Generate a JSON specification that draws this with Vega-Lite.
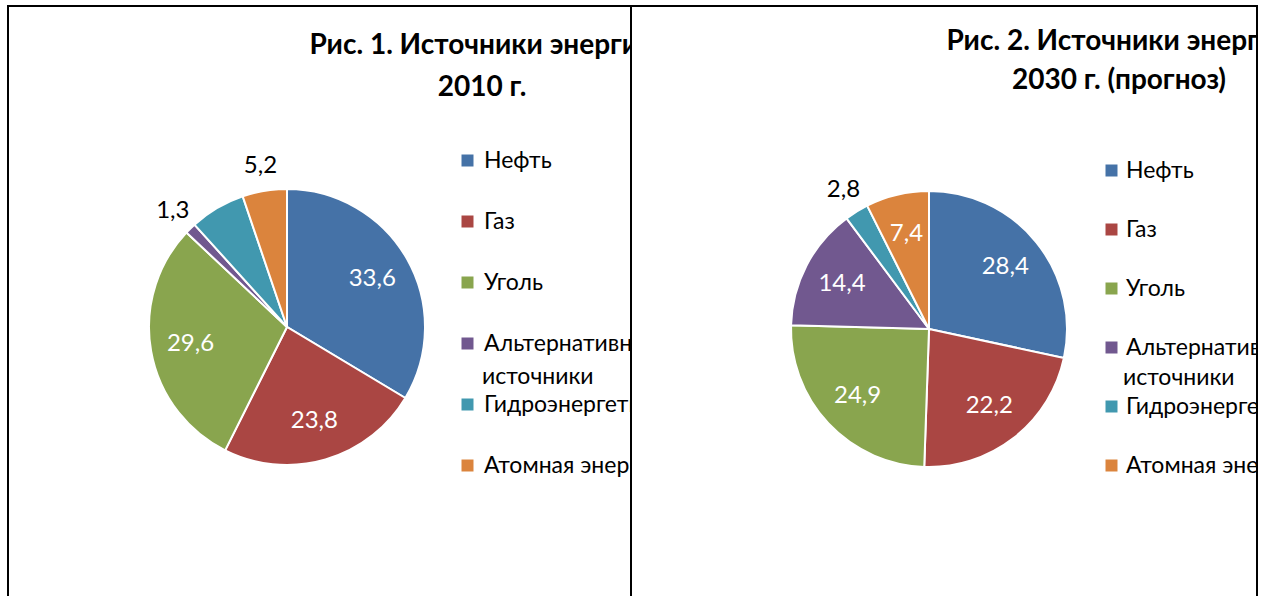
{
  "$schema": "https://vega.github.io/schema/vega-lite/v6.json",
  "background": "white",
  "padding": {"left": 7, "top": 5, "right": 0, "bottom": 0},
  "datasets": {
    "y2010": [
      {"i": 1, "source": "Нефть", "value": 33.6, "label": "33,6"},
      {"i": 2, "source": "Газ", "value": 23.8, "label": "23,8"},
      {"i": 3, "source": "Уголь", "value": 29.6, "label": "29,6"},
      {"i": 4, "source": "Альтернативные источники", "value": 1.3, "label": "1,3"},
      {"i": 5, "source": "Гидроэнергетика", "value": 6.5, "label": ""},
      {"i": 6, "source": "Атомная энергетика", "value": 5.2, "label": "5,2"}
    ],
    "y2030": [
      {"i": 1, "source": "Нефть", "value": 28.4, "label": "28,4"},
      {"i": 2, "source": "Газ", "value": 22.2, "label": "22,2"},
      {"i": 3, "source": "Уголь", "value": 24.9, "label": "24,9"},
      {"i": 4, "source": "Альтернативные источники", "value": 14.4, "label": "14,4"},
      {"i": 5, "source": "Гидроэнергетика", "value": 2.8, "label": "2,8"},
      {"i": 6, "source": "Атомная энергетика", "value": 7.4, "label": "7,4"}
    ]
  },
  "spacing": 0,
  "bounds": "flush",
  "resolve": {
    "scale": {"color": "independent", "opacity": "independent"},
    "legend": {"color": "independent", "opacity": "independent"}
  },
  "hconcat": [
    {
      "width": 623,
      "height": 640,
      "title": {"text": ["Рис. 1. Источники энергии", "2010 г."], "anchor": "start", "align": "center", "baseline": "top", "dx": 474, "dy": 96, "offset": 0, "lineHeight": 42},
      "data": {"name": "y2010"},
      "encoding": {
        "theta": {"field": "value", "type": "quantitative", "stack": true},
        "order": {"field": "i", "type": "quantitative"},
        "x": {"value": 279},
        "y": {"value": 321},
        "color": {
          "field": "source", "type": "nominal",
          "scale": {"domain": ["Нефть", "Газ", "Уголь", "Альтернативные источники", "Гидроэнергетика", "Атомная энергетика"], "range": ["#4572A7", "#AA4643", "#89A54E", "#71588F", "#4198AF", "#DB843D"]},
          "legend": {"title": null, "orient": "none", "legendX": 448, "legendY": 143, "labelOffset": 5, "rowPadding": 37}
        }
      },
      "layer": [
        {"mark": {"type": "arc", "outerRadius": 138, "stroke": "white", "strokeWidth": 2}},
        {"mark": {"type": "text", "radius": 98, "fontSize": 24, "font": "Lato"},
         "encoding": {"text": {"condition": {"test": "datum.value < 6", "value": ""}, "field": "label", "type": "nominal"}, "color": {"value": "white"}}},
        {"mark": {"type": "text", "radius": 163, "fontSize": 24, "font": "Lato"},
         "encoding": {
           "text": {"condition": {"test": "datum.value >= 6", "value": ""}, "field": "label", "type": "nominal"},
           "color": {"value": "black"},
           "opacity": {"datum": "источники", "type": "nominal", "scale": {"range": [1]},
             "legend": {"title": null, "orient": "none", "legendX": 448, "legendY": 359, "labelOffset": 3, "symbolSize": 0}}
         }}
      ]
    },
    {
      "width": 626,
      "height": 640,
      "title": {"text": ["Рис. 2. Источники энергии", "2030 г. (прогноз)"], "anchor": "start", "align": "center", "baseline": "top", "dx": 488, "dy": 89, "offset": 0, "lineHeight": 39},
      "data": {"name": "y2030"},
      "encoding": {
        "theta": {"field": "value", "type": "quantitative", "stack": true},
        "order": {"field": "i", "type": "quantitative"},
        "x": {"value": 298},
        "y": {"value": 323},
        "color": {
          "field": "source", "type": "nominal",
          "scale": {"domain": ["Нефть", "Газ", "Уголь", "Альтернативные источники", "Гидроэнергетика", "Атомная энергетика"], "range": ["#4572A7", "#AA4643", "#89A54E", "#71588F", "#4198AF", "#DB843D"]},
          "legend": {"title": null, "orient": "none", "legendX": 469, "legendY": 153, "labelOffset": 3, "rowPadding": 35}
        }
      },
      "layer": [
        {"mark": {"type": "arc", "outerRadius": 138, "stroke": "white", "strokeWidth": 2}},
        {"mark": {"type": "text", "radius": 98, "fontSize": 24, "font": "Lato"},
         "encoding": {"text": {"condition": {"test": "datum.value < 6", "value": ""}, "field": "label", "type": "nominal"}, "color": {"value": "white"}}},
        {"mark": {"type": "text", "radius": 163, "fontSize": 24, "font": "Lato"},
         "encoding": {
           "text": {"condition": {"test": "datum.value >= 6", "value": ""}, "field": "label", "type": "nominal"},
           "color": {"value": "black"},
           "opacity": {"datum": "источники", "type": "nominal", "scale": {"range": [1]},
             "legend": {"title": null, "orient": "none", "legendX": 469, "legendY": 360, "labelOffset": 0, "symbolSize": 0}}
         }}
      ]
    },
    {
      "width": 30,
      "height": 640,
      "view": {"stroke": "black", "strokeWidth": 2, "strokeDash": [0, 700, 640, 0], "fill": "white"},
      "data": {"values": [{"a": 1}]},
      "mark": {"type": "text"},
      "encoding": {"text": {"value": ""}}
    }
  ],
  "config": {
    "font": "Lato",
    "view": {"stroke": "black", "strokeWidth": 2, "fill": "white"},
    "title": {"font": "Lato", "fontSize": 28, "fontWeight": "bold", "color": "black", "lineHeight": 41},
    "legend": {
      "symbolType": "square",
      "symbolSize": 144,
      "symbolStrokeWidth": 0,
      "labelFont": "Lato",
      "labelFontSize": 23,
      "labelColor": "black",
      "labelLimit": 1000,
      "rowPadding": 37,
      "padding": 0
    }
  }
}
